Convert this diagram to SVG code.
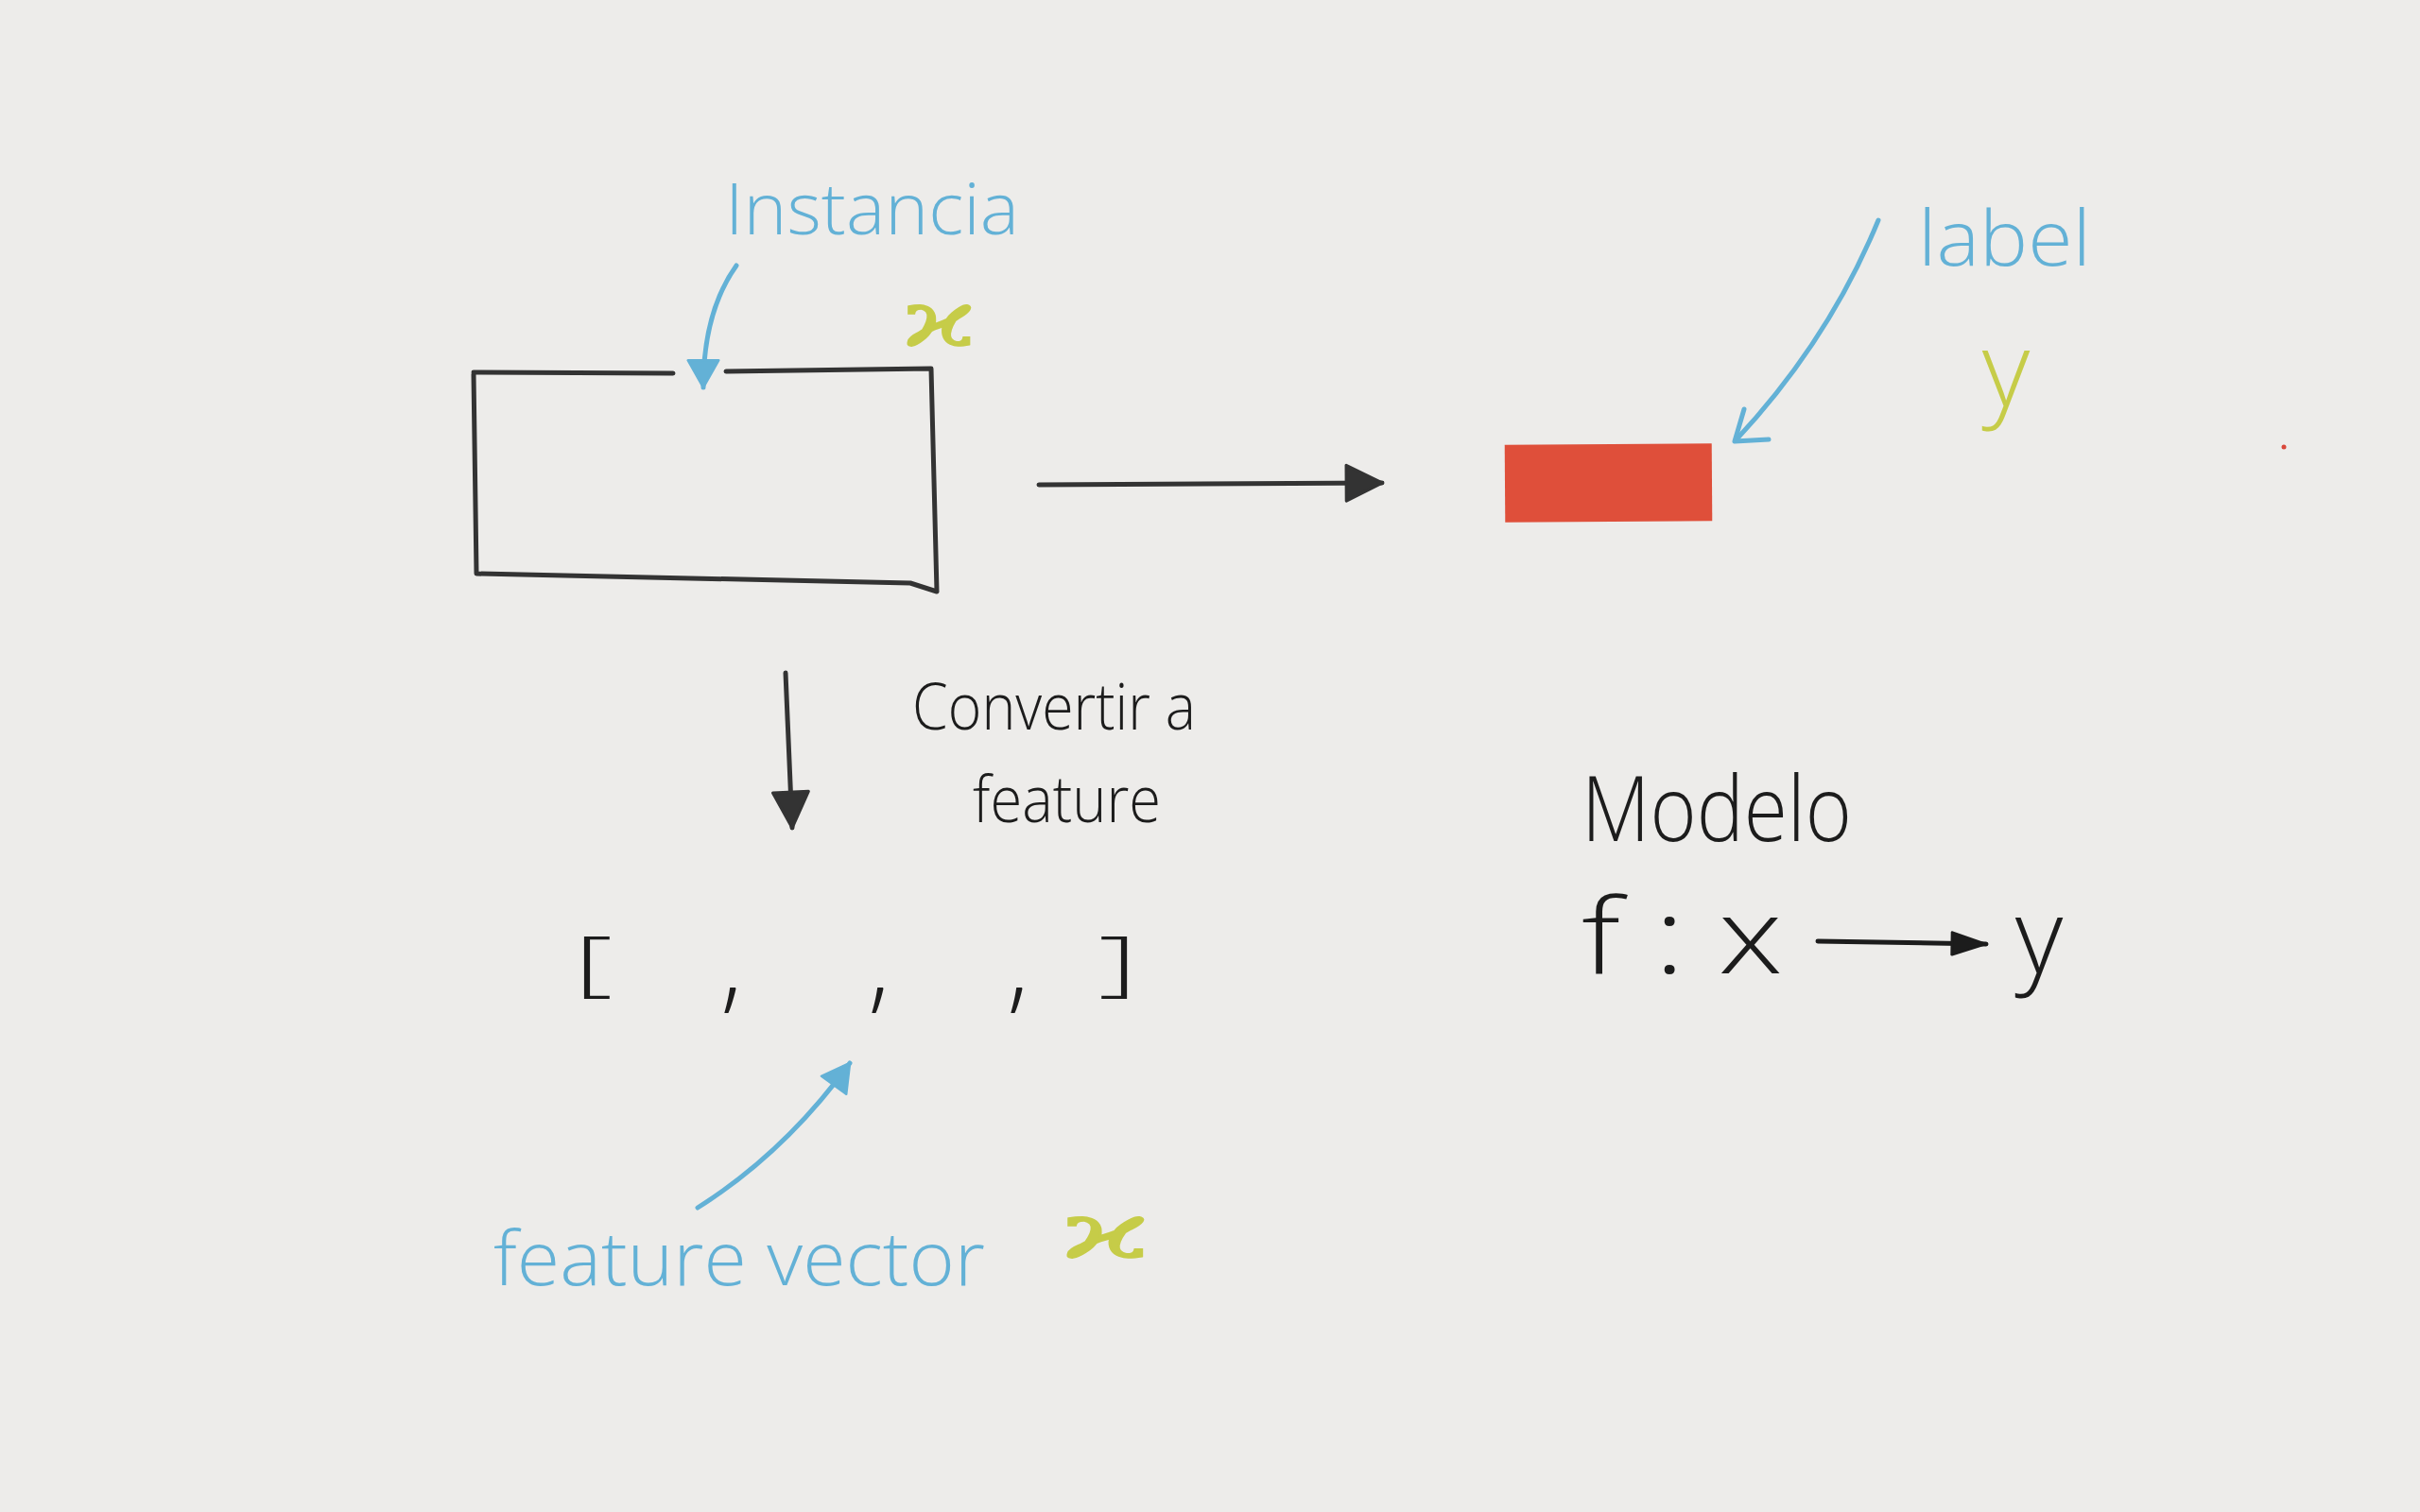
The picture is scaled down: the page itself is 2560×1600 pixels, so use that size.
<svg xmlns="http://www.w3.org/2000/svg" width="2560" height="1600" viewBox="0 0 2560 1600">
  <style>
    .ink { fill: #1c1c1c; font-family: "Open Sans", "Liberation Sans", sans-serif; font-weight: 300; }
    .blue { fill: #63b1d6; font-family: "Open Sans", "Liberation Sans", sans-serif; font-weight: 300; }
    .lime { fill: #c6cc48; stroke: #c6cc48; stroke-width: 1.5; font-family: "DejaVu Serif", "Liberation Serif", serif; }
    .limey { fill: #c6cc48; font-family: "Open Sans", "Liberation Sans", sans-serif; font-weight: 300; }
    .line-dark { fill: none; stroke: #333333; stroke-width: 5; stroke-linecap: round; stroke-linejoin: round; }
    .line-blue { fill: none; stroke: #63b1d6; stroke-width: 5; stroke-linecap: round; stroke-linejoin: round; }
  </style>
  <defs>
    <marker id="headDark" markerUnits="userSpaceOnUse" viewBox="0 0 40 40" refX="38" refY="20" markerWidth="42" markerHeight="42" orient="auto">
      <path d="M2,2 L38,20 L2,38 Z" fill="#333333" stroke="#333333" stroke-width="3" stroke-linejoin="round"/>
    </marker>
    <marker id="headSmall" markerUnits="userSpaceOnUse" viewBox="0 0 40 40" refX="38" refY="20" markerWidth="40" markerHeight="30" orient="auto" preserveAspectRatio="none">
      <path d="M2,4 L38,20 L2,36 Z" fill="#1c1c1c" stroke="#1c1c1c" stroke-width="3" stroke-linejoin="round"/>
    </marker>
    <marker id="headBlue" markerUnits="userSpaceOnUse" viewBox="0 0 40 40" refX="38" refY="20" markerWidth="32" markerHeight="36" orient="auto" preserveAspectRatio="none">
      <path d="M2,2 L38,20 L2,38 Z" fill="#63b1d6" stroke="#63b1d6" stroke-width="3" stroke-linejoin="round"/>
    </marker>
  </defs>

  <rect x="0" y="0" width="2560" height="1600" fill="#edecea"/>

  <g id="instance">
    <path class="line-dark" d="M501,394 L712,395 M768,393 L985,390 L991,626 M504,607 L963,617 L991,626 M501,396 L504,607"/>
    <text class="blue" x="767" y="248" font-size="76" textLength="311" lengthAdjust="spacingAndGlyphs">Instancia</text>
    <text class="lime" x="955" y="366" font-size="80" textLength="77" lengthAdjust="spacingAndGlyphs">ϰ</text>
  </g>

  <g id="label">
    <rect x="1592" y="470" width="219" height="82" fill="#df4f3a" transform="rotate(-0.4 1700 511)"/>
    <text class="blue" x="2029" y="281" font-size="82" textLength="183" lengthAdjust="spacingAndGlyphs">label</text>
    <text class="limey" x="2122" y="430" font-size="110" text-anchor="middle">y</text>
    <circle cx="2416" cy="473" r="2.5" fill="#d9473a"/>
  </g>

  <g id="conversion">
    <text class="ink" x="965" y="772" font-size="68" textLength="300" lengthAdjust="spacingAndGlyphs">Convertir a</text>
    <text class="ink" x="1029" y="870" font-size="68" textLength="199" lengthAdjust="spacingAndGlyphs">feature</text>
  </g>

  <g id="feature-vector">
    <text class="ink" x="607" y="1045" font-size="76" textLength="41" lengthAdjust="spacingAndGlyphs">[</text>
    <text class="ink" x="762" y="1058" font-size="110">,</text>
    <text class="ink" x="918" y="1058" font-size="110">,</text>
    <text class="ink" x="1065" y="1058" font-size="110">,</text>
    <text class="ink" x="1162" y="1045" font-size="76" textLength="41" lengthAdjust="spacingAndGlyphs">]</text>
    <text class="blue" x="522" y="1360" font-size="80" textLength="520" lengthAdjust="spacingAndGlyphs">feature vector</text>
    <text class="lime" x="1123" y="1331" font-size="80" textLength="93" lengthAdjust="spacingAndGlyphs">ϰ</text>
  </g>

  <g id="model">
    <text class="ink" x="1673" y="890" font-size="95" textLength="286" lengthAdjust="spacingAndGlyphs">Modelo</text>
    <text class="ink" x="1673" y="1030" font-size="110" textLength="213" lengthAdjust="spacingAndGlyphs">f : x</text>
    <text class="ink" x="2157" y="1030" font-size="110" text-anchor="middle">y</text>
  </g>

  <g id="connectors">
    <path class="line-dark" d="M1099,513 L1462,511" marker-end="url(#headDark)"/>
    <path class="line-dark" d="M831,712 L838,876" marker-end="url(#headDark)"/>
    <path class="line-blue" d="M779,281 Q744,330 744,410" marker-end="url(#headBlue)"/>
    <path class="line-blue" d="M738,1278 Q830,1220 899,1125" marker-end="url(#headBlue)"/>
    <path class="line-blue" d="M1987,233 Q1935,360 1836,466"/>
    <path class="line-blue" d="M1845,433 L1835,467 L1871,465"/>
    <path d="M1923,996 L2101,999" fill="none" stroke="#1c1c1c" stroke-width="5" stroke-linecap="round" marker-end="url(#headSmall)"/>
  </g>
</svg>
